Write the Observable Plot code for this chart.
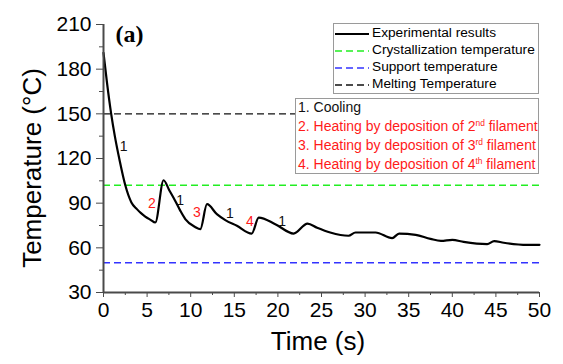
<!DOCTYPE html>
<html>
<head>
<meta charset="utf-8">
<script src="https://cdn.jsdelivr.net/npm/d3@7"></script>
<script src="https://cdn.jsdelivr.net/npm/@observablehq/plot@0.6"></script>
<style>
  html, body { margin: 0; padding: 0; background: #fff; }
  #wrap { position: relative; width: 563px; height: 364px; font-family: "Liberation Sans", Arial, sans-serif; }
  .box { position: absolute; border: 1px solid #9a9a9a; background: #fff; box-sizing: border-box; }
  .row { position: absolute; white-space: nowrap; line-height: 1; }
  .title { position: absolute; white-space: nowrap; line-height: 1; font-size: 26px; color: #000; }
  sup { font-size: 0.6em; vertical-align: 0.55em; line-height: 0; }
</style>
</head>
<body>
<div id="wrap"></div>
<script>
// ---- data ----
const timeS = [0, 0.4, 0.88, 1.3, 1.84, 2.5, 3.2, 3.83, 4.3, 4.79, 5.4, 5.94, 6.89, 7.54, 8.23, 8.8, 9.38, 10.5, 11.1, 11.87, 13.0, 13.97, 15.3, 17.0, 17.8, 19.7, 21.8, 23.4, 24.5, 26.0, 28.1, 28.9, 31.2, 33.1, 33.9, 35.8, 37.5, 38.7, 40.0, 41.3, 44.0, 44.8, 45.9, 48.6, 50.0];
const tempC = [191, 171, 150, 135, 119, 102, 90.5, 86, 83.3, 81, 78.8, 77, 105.4, 98.7, 91.5, 85, 79.3, 74, 72.5, 89.3, 82.6, 78.6, 74.8, 69.6, 80.3, 75.9, 69.6, 76.3, 73.5, 70.3, 68.1, 70.3, 70.3, 66.5, 69.6, 68.7, 66, 64.7, 65.4, 64, 62.5, 64.5, 63.4, 62, 62];

const refNames = ["Crystallization temperature", "Support temperature", "Melting Temperature"];
const refValues = [102, 50, 150];
const refColors = ["#22ee22", "#3333ff", "#111111"];

const phaseLabels = ["1", "2", "1", "3", "1", "4", "1"];
const phaseT = [2.3, 5.55, 8.8, 10.7, 14.5, 16.8, 20.5];
const phaseTemp = [128, 90, 91.5, 84, 83, 77.5, 78];
const phaseIsHeating = [false, true, false, true, false, true, false];

const xMajor = [0, 5, 10, 15, 20, 25, 30, 35, 40, 45, 50];
const xMinor = [2.5, 7.5, 12.5, 17.5, 22.5, 27.5, 32.5, 37.5, 42.5, 47.5];
const yMajor = [30, 60, 90, 120, 150, 180, 210];
const yMinor = [45, 75, 105, 135, 165, 195];

const xTitle = "Time (s)";
const yTitle = "Temperature (°C)";
const panelTag = "(a)";

const legend1Labels = ["Experimental results", ...refNames];
const legend1Colors = ["#000", ...refColors];
const legend1Dash = [null, "7,4", "7,4", "7,4"];

const legend2Html = ["1. Cooling",
  "2. Heating by deposition of 2<sup>nd</sup> filament",
  "3. Heating by deposition of 3<sup>rd</sup> filament",
  "4. Heating by deposition of 4<sup>th</sup> filament"];
const legend2Colors = ["#111", "#ff1a1a", "#ff1a1a", "#ff1a1a"];

// ---- chart ----
const curve = timeS.map((t, i) => ({t, v: tempC[i]}));
const phases = phaseLabels.map((s, i) => ({s, t: phaseT[i], v: phaseTemp[i], h: phaseIsHeating[i]}));
const axisColor = "#4a4a4a";

const chart = Plot.plot({
  width: 563,
  height: 364,
  marginLeft: 103,
  marginRight: 24,
  marginTop: 24,
  marginBottom: 72,
  style: {fontFamily: "'Liberation Sans', Arial, sans-serif", background: "transparent", color: "#000"},
  x: {domain: [0, 50]},
  y: {domain: [30, 210]},
  marks: [
    ...refValues.map((v, i) => Plot.ruleY([v], {stroke: refColors[i], strokeDasharray: "7,4", strokeWidth: 1.4})),
    Plot.line(curve, {x: "t", y: "v", stroke: "#000", strokeWidth: 2.2, strokeLinejoin: "round", curve: "monotone-x"}),
    Plot.text(phases.filter(d => !d.h), {x: "t", y: "v", text: "s", fill: "#111", fontSize: 14}),
    Plot.text(phases.filter(d => d.h), {x: "t", y: "v", text: "s", fill: "#ff1a1a", fontSize: 14}),
    Plot.axisX({ticks: xMajor, tickSize: 5, tickPadding: 5, fontSize: 21, stroke: axisColor, label: null, tickFormat: d => d}),
    Plot.axisX({ticks: xMinor, tickSize: 3, stroke: axisColor, label: null, tickFormat: () => ""}),
    Plot.axisY({ticks: yMajor, tickSize: 7, tickPadding: 5, fontSize: 21, stroke: axisColor, label: null, tickFormat: d => d}),
    Plot.axisY({ticks: yMinor, tickSize: 4, stroke: axisColor, label: null, tickFormat: () => ""}),
    Plot.ruleX([0], {stroke: axisColor, strokeWidth: 2}),
    Plot.ruleY([30], {stroke: axisColor, strokeWidth: 2}),
    Plot.text([panelTag], {frameAnchor: "top-left", dx: 12, dy: 10, textAnchor: "start", lineAnchor: "middle", fontSize: 24, fontWeight: "bold", fontFamily: "'Liberation Serif', 'Times New Roman', serif", fill: "#000"})
  ]
});

const wrap = document.getElementById("wrap");
chart.style.position = "absolute";
chart.style.left = "0px";
chart.style.top = "0px";
wrap.appendChild(chart);

// axis titles
const xt = document.createElement("div");
xt.className = "title";
xt.textContent = xTitle;
Object.assign(xt.style, {left: "318px", top: "341px", transform: "translate(-50%, -50%)"});
wrap.appendChild(xt);
const yt = document.createElement("div");
yt.className = "title";
yt.textContent = yTitle;
Object.assign(yt.style, {left: "32px", top: "168px", transform: "translate(-50%, -50%) rotate(-90deg)"});
wrap.appendChild(yt);

// legend 1
const box1 = document.createElement("div");
box1.className = "box";
Object.assign(box1.style, {left: "333px", top: "23px", width: "206px", height: "71px"});
wrap.appendChild(box1);
legend1Labels.forEach((lab, i) => {
  const cy = 9.5 + i * 17;
  const sw = document.createElementNS("http://www.w3.org/2000/svg", "svg");
  sw.setAttribute("width", "34"); sw.setAttribute("height", "4");
  Object.assign(sw.style, {position: "absolute", left: "1px", top: (cy - 2) + "px"});
  const ln = document.createElementNS("http://www.w3.org/2000/svg", "line");
  ln.setAttribute("x1", "0"); ln.setAttribute("x2", "34"); ln.setAttribute("y1", "2"); ln.setAttribute("y2", "2");
  ln.setAttribute("stroke", legend1Colors[i]);
  ln.setAttribute("stroke-width", legend1Dash[i] ? "1.4" : "2.2");
  if (legend1Dash[i]) ln.setAttribute("stroke-dasharray", legend1Dash[i]);
  sw.appendChild(ln);
  box1.appendChild(sw);
  const t = document.createElement("div");
  t.className = "row";
  t.textContent = lab;
  Object.assign(t.style, {left: "38px", top: (cy - 7.5) + "px", fontSize: "13.7px", color: "#000"});
  box1.appendChild(t);
});

// legend 2
const box2 = document.createElement("div");
box2.className = "box";
Object.assign(box2.style, {left: "295px", top: "98px", width: "244px", height: "76px"});
wrap.appendChild(box2);
legend2Html.forEach((h, i) => {
  const cy = 8.5 + i * 19;
  const t = document.createElement("div");
  t.className = "row";
  t.innerHTML = h;
  Object.assign(t.style, {left: "2px", top: (cy - 7.5) + "px", fontSize: "14px", color: legend2Colors[i]});
  box2.appendChild(t);
});
</script>
</body>
</html>
